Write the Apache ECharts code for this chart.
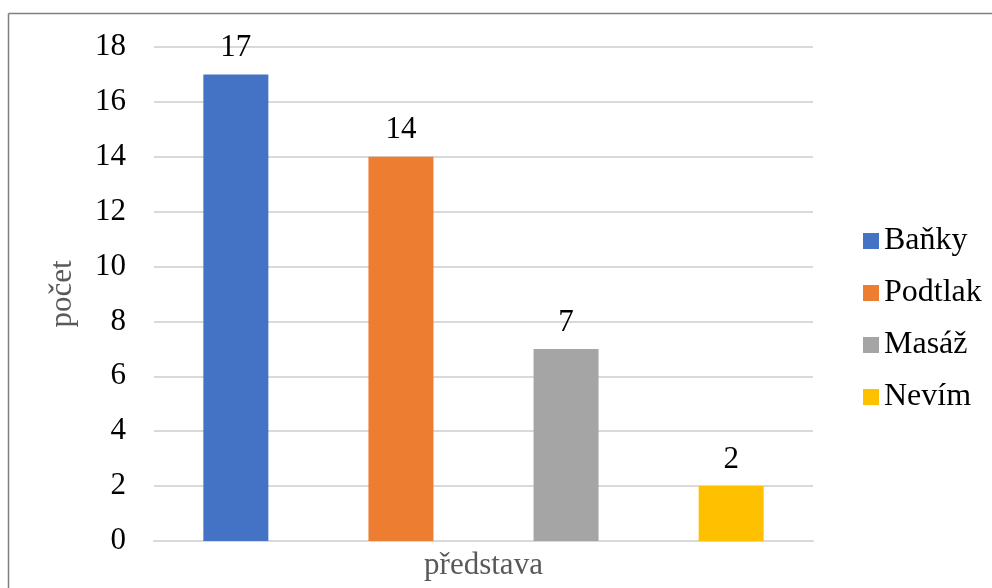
<!DOCTYPE html>
<html>
<head>
<meta charset="utf-8">
<script src="https://cdn.jsdelivr.net/npm/echarts@6/dist/echarts.min.js"></script>
<style>
html,body{margin:0;padding:0;background:#fff;}
#c{width:992px;height:588px;}
</style>
</head>
<body>
<div id="c"></div>
<script>
const categories = ['představa'];
const seriesNames = ['Baňky', 'Podtlak', 'Masáž', 'Nevím'];
const seriesValues = [17, 14, 7, 2];
const colors = ['#4472C4', '#ED7D31', '#A5A5A5', '#FFC000'];
const yTicks = { min: 0, max: 18, interval: 2 };

const FONT = "'Liberation Serif', 'Times New Roman', serif";
const FS = 31;
const chart = echarts.init(document.getElementById('c'));
chart.setOption({
  animation: false,
  backgroundColor: '#fff',
  textStyle: { fontFamily: FONT },
  graphic: [
    { type: 'line', shape: { x1: 8.5, y1: 13.5, x2: 992, y2: 13.5 }, style: { stroke: '#7f7f7f', lineWidth: 1.5 } },
    { type: 'line', shape: { x1: 8.5, y1: 13.5, x2: 8.5, y2: 588 }, style: { stroke: '#7f7f7f', lineWidth: 1.5 } }
  ],
  grid: { left: 154, right: 179, top: 47, bottom: 47, containLabel: false },
  legend: {
    orient: 'vertical',
    left: 858,
    top: 220,
    icon: 'rect',
    itemWidth: 16,
    itemHeight: 16,
    itemGap: 20,
    textStyle: { fontFamily: FONT, fontSize: 32, color: '#000', padding: [0, 0, 0, 0] },
    data: seriesNames
  },
  xAxis: {
    type: 'category',
    data: categories,
    name: 'představa',
    nameLocation: 'middle',
    nameGap: 9,
    nameTextStyle: { fontFamily: FONT, fontSize: FS, color: '#595959' },
    axisLine: { show: true, lineStyle: { color: '#d9d9d9', width: 2 } },
    axisTick: { show: false },
    axisLabel: { show: false }
  },
  yAxis: {
    type: 'value',
    min: yTicks.min,
    max: yTicks.max,
    interval: yTicks.interval,
    name: 'počet',
    nameLocation: 'middle',
    nameGap: 76,
    nameTextStyle: { fontFamily: FONT, fontSize: FS, color: '#595959' },
    axisLine: { show: false },
    axisTick: { show: false },
    axisLabel: { fontFamily: FONT, fontSize: FS, color: '#000', margin: 28 },
    splitLine: { lineStyle: { color: '#d9d9d9', width: 2 } }
  },
  series: seriesNames.map((n, i) => ({
    name: n,
    type: 'bar',
    barWidth: 65,
    barGap: '154%',
    itemStyle: { color: colors[i] },
    label: { show: true, position: 'top', distance: 11, fontFamily: FONT, fontSize: FS, color: '#000' },
    data: [seriesValues[i]]
  }))
});
</script>
</body>
</html>
